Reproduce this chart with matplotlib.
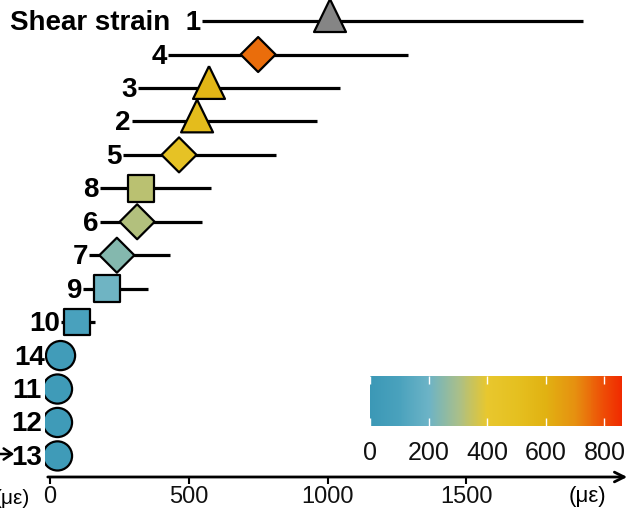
import numpy as np
import matplotlib
matplotlib.use('Agg')
import matplotlib.pyplot as plt
from matplotlib.colors import LinearSegmentedColormap, Normalize

plt.rcParams['font.family'] = ['Liberation Sans', 'DejaVu Sans']

# data
labels = ['1', '4', '3', '2', '5', '8', '6', '7', '9', '10', '14', '11', '12', '13']
values = [1009, 750, 573, 530, 465, 328, 314, 241, 205, 97, 38, 27, 27, 27]
low = [548, 425, 317, 295, 263, 180, 180, 141, 119, 40, 38, 27, 27, 27]
high = [1921, 1290, 1045, 962, 814, 580, 548, 432, 353, 162, 38, 27, 27, 27]
shapes = ['tri', 'dia', 'tri', 'tri', 'dia', 'sq', 'dia', 'dia', 'sq', 'sq',
          'o', 'o', 'o', 'o']
first_label_prefix = 'Shear strain  '
xticks = [0, 500, 1000, 1500]
cbar_ticks = [0, 200, 400, 600, 800]
cbar_max = 860

# colour scale
stops = [0, 100, 200, 300, 400, 500, 600, 700, 800, 860]
stop_colors = ['#3b98b6', '#4aa2bd', '#6cb3c6', '#a9bf8a', '#e8c72e', '#e5c020',
               '#e1b212', '#e69010', '#ee4c06', '#f02a00']
cmap = LinearSegmentedColormap.from_list(
    'strain', [(s / cbar_max, c) for s, c in zip(stops, stop_colors)])
cmap.set_over('#858585')
norm = Normalize(0, cbar_max)

W, H = 638, 510
fig = plt.figure(figsize=(W / 100, H / 100), dpi=100)
ax = fig.add_axes([45 / W, 32 / H, 585 / W, 478 / H])
ax.set_xlim(-18, 2090)
ax.set_ylim(0.37, 14.66)
n = len(labels)
ys = np.arange(n, 0, -1)

# error lines
for y, lo, hi in zip(ys, low, high):
    if hi > lo:
        ax.plot([lo, hi], [y, y], color='black', lw=2.3, solid_capstyle='butt', zorder=1)

# markers
tri = [(0, 1), (-0.73, -0.5), (0.73, -0.5), (0, 1)]
marker_def = {'tri': (tri, 31.5, 16), 'dia': ('D', 17.8, 17), 'sq': ('s', 19, 13.5),
              'o': ('o', 21, 14.5)}
values_a = np.array(values)
for key, (mk, ms, hw) in marker_def.items():
    idx = [i for i, s in enumerate(shapes) if s == key]
    ax.scatter(values_a[idx], ys[idx], c=values_a[idx], cmap=cmap, norm=norm,
               marker=mk, s=ms ** 2, edgecolors='black', linewidths=1.6, zorder=3)

# row labels
for i, (lab, y) in enumerate(zip(labels, ys)):
    hw = marker_def[shapes[i]][2]
    px_lo = ax.transData.transform((low[i], y))
    px_val = ax.transData.transform((values[i], y))
    left = min(px_lo[0], px_val[0] - hw) if high[i] > low[i] else px_val[0] - hw
    txt = first_label_prefix + lab if i == 0 else lab
    ax.annotate(txt, xy=(left - 1, px_val[1] - 1), xycoords='figure pixels',
                ha='right', va='center', fontsize=20, fontweight='bold')

# axis
for s in ['left', 'top', 'right', 'bottom']:
    ax.spines[s].set_visible(False)
ax.set_yticks([])
ax.set_xticks(xticks)
ax.set_xticklabels([str(t) for t in xticks])
ax.tick_params(axis='x', length=5, width=1.5, labelsize=17, pad=1, labelcolor='#111111')
ax.annotate('', xy=(1.0, 0), xytext=(0, 0), xycoords='axes fraction',
            arrowprops=dict(arrowstyle='->,head_length=0.7,head_width=0.35', lw=2, color='black'),
            annotation_clip=False)
fig.text(587 / W, 1 - 497 / H, '(με)', ha='center', va='center', fontsize=16)

# cut-off pieces from neighbouring panel
fig.patches.append(matplotlib.patches.FancyArrowPatch(
    (-5, H - 455), (17, H - 455), transform=None,
    arrowstyle='->,head_length=6,head_width=4', lw=1.8, color='black'))
fig.text(30 / W, 1 - 499 / H, '(με)', ha='right', va='center', fontsize=15)

# colour bar
cax = fig.add_axes([370 / W, 83 / H, 252 / W, 50 / H])
cb = fig.colorbar(matplotlib.cm.ScalarMappable(norm=norm, cmap=cmap), cax=cax,
                  orientation='horizontal')
cb.outline.set_visible(False)
cb.set_ticks(cbar_ticks)
cax.tick_params(axis='x', direction='in', color='white', length=6, width=1,
                labelsize=18, pad=10, top=True, labelcolor='#111111')

fig.savefig('out.png', dpi=100)
